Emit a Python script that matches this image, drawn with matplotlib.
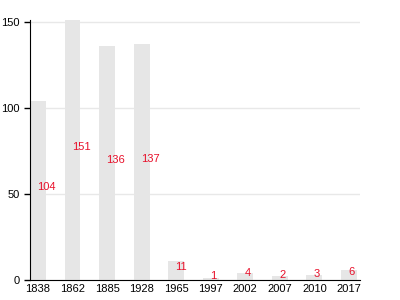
import matplotlib
matplotlib.use("Agg")
import matplotlib.pyplot as plt

years = ["1838", "1862", "1885", "1928", "1965", "1997", "2002", "2007", "2010", "2017"]
counts = [104, 151, 136, 137, 11, 1, 4, 2, 3, 6]

plt.rcParams['font.family'] = ['Liberation Sans', 'DejaVu Sans']

fig = plt.figure(figsize=(4, 3), dpi=100)
ax = fig.add_axes([0.075, 0.067, 0.825, 0.866])

pos = range(len(years))
ax.bar(pos, counts, width=0.46, color='#e6e6e6', zorder=2)
# value labels sit half way up each bar, starting at the bar centre
for i, c in zip(pos, counts):
    ax.text(i - 0.02, c / 2, str(c), color='#e8102a', fontsize=8,
            ha='left', va='baseline', zorder=3)

ax.set_xticks(list(pos))
ax.set_xticklabels(years, fontsize=8)
ax.set_yticks([0, 50, 100, 150])
ax.tick_params(axis='y', labelsize=8, length=4, width=1)
ax.tick_params(axis='x', length=0, pad=3)
ax.set_xlim(-0.23, 9.32)
ax.set_ylim(0, 151)
ax.yaxis.grid(True, color='#e8e8e8', linewidth=1, zorder=0)
ax.set_axisbelow(True)
for s in ['top', 'right']:
    ax.spines[s].set_visible(False)
ax.spines['left'].set_color('black')
ax.spines['bottom'].set_color('black')

fig.savefig("out.png", dpi=100)
